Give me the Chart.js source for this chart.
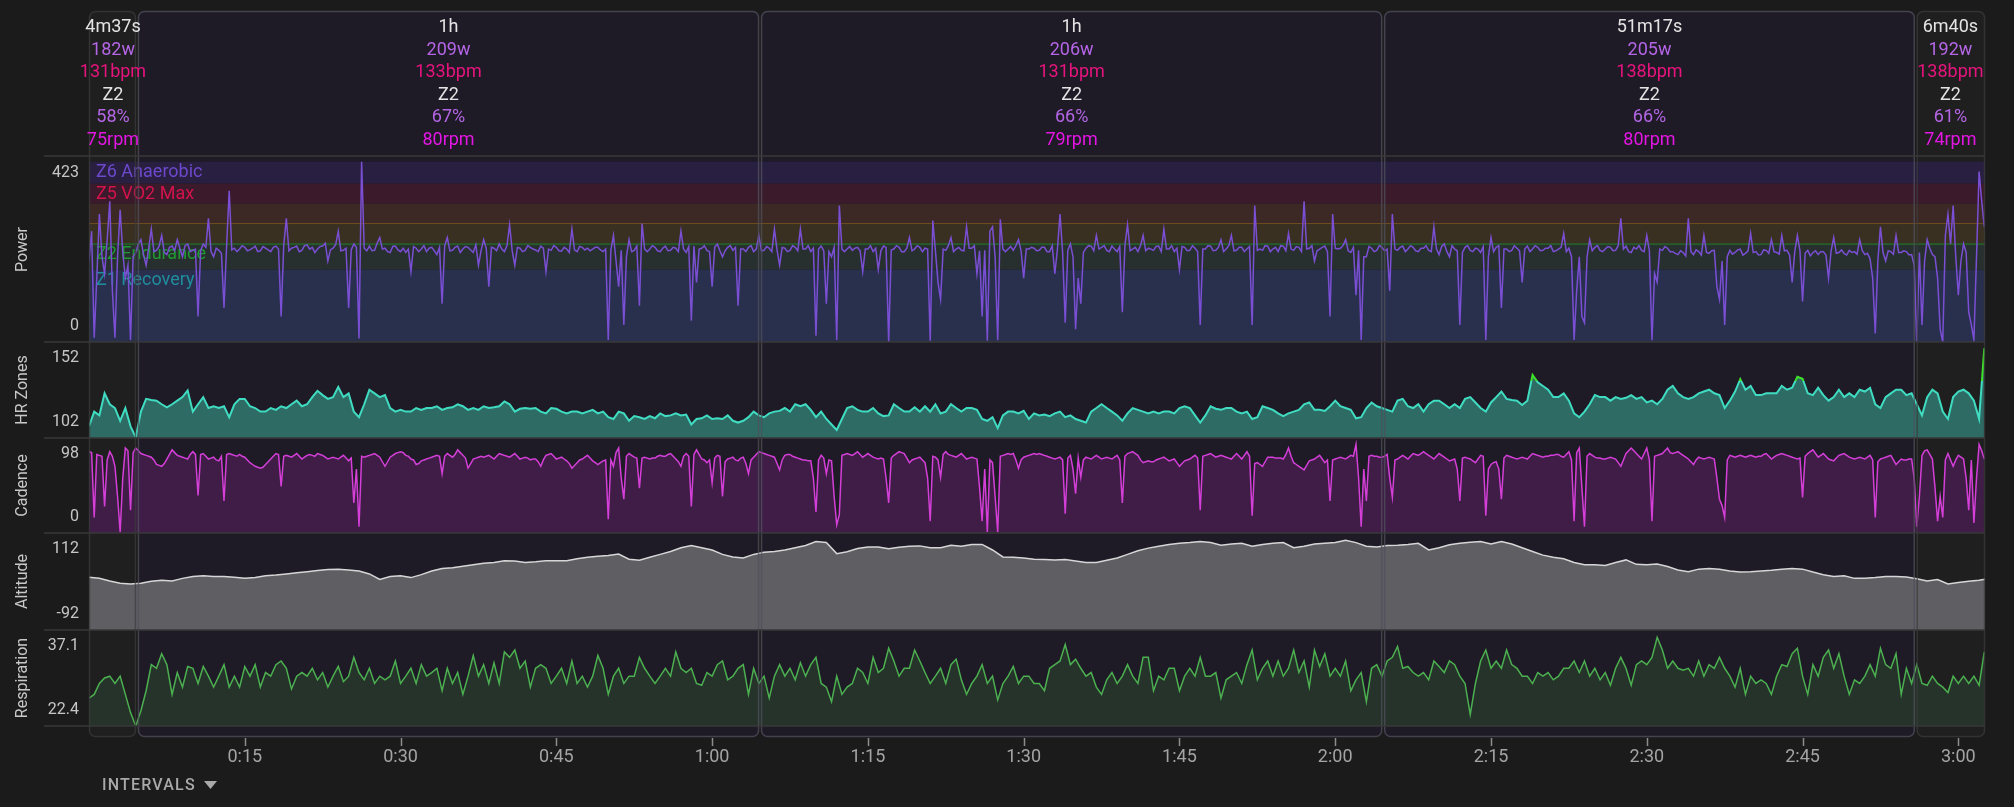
<!DOCTYPE html>
<html>
<head>
<meta charset="utf-8">
<script src="https://cdn.jsdelivr.net/npm/chart.js@4.4.1/dist/chart.umd.min.js"></script>
<style>
  html, body { margin: 0; padding: 0; background: #1b1b1b; }
  #wrap { position: relative; width: 2014px; height: 807px; }
  canvas { display: block; }
</style>
</head>
<body>
<div id="wrap"><canvas id="activity" width="2014" height="807"></canvas></div>
<script>
// sample spacing in minutes
var FINE_STEP = 0.25;   // power, cadence
var STEP = 0.5;         // heart rate, respiration
var ALT_STEP = 1;       // altitude
var END_MIN = 182.567;  // 3:02:34

var tickMinutes = [15, 30, 45, 60, 75, 90, 105, 120, 135, 150, 165, 180];
var tickLabels = ['0:15', '0:30', '0:45', '1:00', '1:15', '1:30', '1:45', '2:00', '2:15', '2:30', '2:45', '3:00'];

// intervals
var intStart = [0, 4.617, 64.617, 124.617, 175.9];
var intEnd = [4.617, 64.617, 124.617, 175.9, 182.567];
var intSelected = [false, true, true, true, false];
var intDuration = ['4m37s', '1h', '1h', '51m17s', '6m40s'];
var intWatts = ['182w', '209w', '206w', '205w', '192w'];
var intBpm = ['131bpm', '133bpm', '131bpm', '138bpm', '138bpm'];
var intZone = ['Z2', 'Z2', 'Z2', 'Z2', 'Z2'];
var intPct = ['58%', '67%', '66%', '66%', '61%'];
var intRpm = ['75rpm', '80rpm', '79rpm', '80rpm', '74rpm'];

// power zones (upper bound in watts)
var zoneNames = ['Z1 Recovery', 'Z2 Endurance', 'Z3 Tempo', 'Z4 Threshold', 'Z5 VO2 Max', 'Z6 Anaerobic'];
var zoneTops = [170, 232, 279, 325, 372, 423];
var zoneShowName = [true, true, false, false, true, true];

// panel labels
var panelTitles = ['Power', 'HR Zones', 'Cadence', 'Altitude', 'Respiration'];
var panelTopLabel = ['423', '152', '98', '112', '37.1'];
var panelBottomLabel = ['0', '102', '0', '-92', '22.4'];
var hrAlertBpm = 134;

var powerW = [
  190,260,10,150, 300,200,160,240, 330,120,10,200, 310,210,150,180, 5,200,210,230, 240,205,180,220, 265,212,215,225, 250,210,205,222,
  225,214,240,220, 200,226,230,212, 215,218,60,215, 230,222,290,212, 200,220,215,208, 80,224,355,216, 220,212,218,226, 222,214,216,220,
  225,212,214,224, 220,216,212,222, 225,218,60,226, 290,214,220,222, 225,212,215,226, 228,218,222,210, 218,224,225,232, 190,216,220,228,
  260,214,215,220, 80,216,230,222, 8,423,220,214, 225,214,215,232, 245,218,220,212, 210,224,225,216, 212,220,
  210,218,165,224, 220,212,218,226, 212,220,222,214, 205,222,90,226, 245,214,215,222, 225,210,218,224, 222,216,210,228, 180,214,240,220,
  130,222,220,214, 230,218,212,226, 275,214,180,222, 220,212,215,226, 222,218,216,212, 225,220,165,218, 215,226,222,214, 213,222,218,210,
  265,216,212,224, 222,216,220,214, 218,222,222,216, 212,218,5,215, 250,190,130,215, 40,200,240,212, 215,225,85,278, 218,212,218,226,
  222,214,212,220, 225,214,215,222, 220,212,260,218, 210,224,50,225, 140,218,220,226, 215,212,130,222, 230,214,
  200,214,222,226, 215,222,85,218, 218,212,222,226, 212,218,250,214, 215,224,220,212, 265,216,180,222, 220,212,215,226, 222,214,265,218,
  218,226,212,220, 15,218,225,214, 90,212,200,222, 5,320,218,212, 218,224,215,220, 222,214,165,218, 218,226,212,220, 170,214,225,222,
  0,216,218,226, 222,212,212,220, 245,214,218,226, 222,212,220,218, 3,285,215,140, 100,218,215,226, 245,212,218,222, 215,214,270,220,
  220,226,160,214, 60,215,3,260, 270,200,4,288, 218,212,218,224, 215,226,240,214, 150,218,218,222, 220,214,
  215,222,222,212, 212,226,160,218, 300,210,45,215, 230,200,30,150, 90,210,220,226, 225,214,250,218, 222,226,215,212, 225,218,212,224,
  70,226,275,214, 218,222,212,226, 250,214,220,218, 215,224,225,212, 265,218,218,226, 212,220,170,224, 222,214,215,226, 220,212,40,218,
  218,226,225,214, 215,222,240,212, 218,226,250,214, 215,222,222,212, 218,224,40,320, 215,218,215,226, 225,212,218,222, 212,226,225,214,
  255,218,215,224, 222,212,330,218, 220,226,190,214, 218,222,225,212, 60,300,220,218, 220,226,240,214, 210,222,
  110,215,5,200, 200,224,220,212, 215,226,222,214, 218,120,300,218, 215,222,225,212, 218,226,222,214, 212,220,220,226, 215,212,270,218,
  205,224,230,212, 200,226,218,214, 40,210,222,226, 215,212,220,218, 210,224,5,200, 245,212,222,226, 80,218,218,212, 215,226,220,214,
  140,218,225,212, 218,226,222,214, 215,220,220,226, 212,214,218,222, 255,212,220,200, 5,120,200,60, 45,200,240,214, 222,226,215,212,
  218,224,222,214, 215,226,290,218, 225,212,210,222, 218,226,215,212, 250,214,4,160, 140,218,215,224, 220,212,
  212,208,205,214, 210,202,290,212, 205,216,212,204, 250,210,208,214, 215,130,100,190, 40,200,215,206, 210,216,218,204, 208,214,255,210,
  212,204,205,216, 215,208,240,212, 210,206,250,214, 215,204,140,212, 250,214,95,208, 215,202,210,214, 205,212,212,204, 150,214,245,208,
  210,216,208,204, 215,210,212,206, 240,214,205,208, 195,150,20,190, 270,210,190,214, 212,206,250,210, 210,214,212,204, 205,180,0,210,
  40,190,240,220, 205,200,150,30, 0,250,300,230, 320,200,110,190, 230,210,70,40, 5,200,400,330, 270
];

var cadenceRpm = [
  89,88,17,86, 85,84,29,80, 89,84,73,40, 1,60,93,90, 25,88,93,90, 87,86,85,84, 83,80,75,74, 73,76,81,86, 91,88,85,84, 83,82,81,86,
  89,86,41,86, 87,84,81,82, 83,80,79,84, 35,86,87,86, 85,84,86,84, 83,80,77,75, 73,72,71,72, 75,78,81,84, 87,86,51,84, 85,84,83,85,
  87,84,81,83, 85,86,85,84, 87,86,85,83, 81,82,83,82, 81,83,85,82, 79,82,33,70, 7,84,83,84, 85,86,87,85, 83,78,73,78, 83,85,87,88, 89,88,
  85,84,81,80, 75,76,79,80, 81,82,83,84, 85,84,65,84, 87,85,83,86, 91,88,85,82, 71,76,81,82, 83,84,83,84, 85,83,81,84, 87,86,85,84,
  83,85,87,84, 81,82,83,82, 80,81,81,78, 73,80,85,86, 87,84,81,82, 83,81,79,76, 71,74,77,80, 81,83,85,82, 79,77,75,77, 79,80,15,80,
  73,88,93,60, 37,84,87,85, 83,82,49,82, 83,82,81,82, 82,84,85,84, 84,86,87,84, 81,78,73,84, 87,84,29,86, 91,86,81,80, 77,80,55,82, 85,84,
  40,78,81,82, 83,80,79,82, 83,76,65,80, 83,86,89,88, 87,86,85,84, 83,76,69,80, 85,86,86,84, 83,82,81,80, 80,79,79,60, 23,80,85,82,
  65,80,79,40, 9,20,85,86, 87,86,85,87, 89,86,83,85, 87,85,83,82, 81,82,81,60, 33,82,85,87, 89,88,87,82, 77,80,81,82, 83,80,77,60,
  13,84,83,80, 61,86,89,86, 85,84,83,85, 87,84,81,82, 83,82,81,50, 13,70,1,80, 77,40,1,84, 85,86,87,86, 87,80,71,80, 83,84,85,86, 87,86,
  87,86,85,84, 83,82,81,82, 83,80,21,82, 85,70,43,82, 61,80,83,82, 81,83,85,83, 81,82,83,82, 81,83,85,80, 33,84,87,88, 89,87,85,80,
  77,78,79,78, 78,80,81,82, 83,81,79,80, 81,77,73,76, 79,80,81,83, 85,82,25,84, 85,86,87,85, 83,84,85,84, 83,82,81,84, 87,84,81,85,
  89,84,19,76, 77,75,73,78, 83,83,83,82, 82,82,81,86, 93,84,77,75, 73,71,69,74, 79,80,81,83, 85,81,77,80, 35,80,81,82, 83,82,81,83, 85,84,
  97,60,7,70, 35,84,85,84, 84,83,83,84, 86,60,39,80, 81,83,85,83, 81,84,87,86, 85,87,89,87, 85,83,81,84, 87,85,83,81, 79,80,81,70,
  35,82,83,82, 81,79,77,81, 85,84,19,70, 75,77,78,70, 37,82,85,84, 83,82,81,82, 83,82,81,84, 87,86,85,84, 83,84,84,85, 85,86,86,84,
  83,86,89,80, 13,88,93,50, 7,84,87,85, 83,82,82,81, 81,82,83,82, 81,77,73,80, 87,90,93,90, 87,84,81,87, 93,80,13,84, 85,86,87,90, 93,88,
  87,88,89,87, 85,83,81,78, 75,80,83,82, 81,82,83,82, 81,60,37,30, 17,80,85,84, 83,84,85,84, 83,84,85,84, 83,84,84,86, 87,84,81,83,
  85,86,87,86, 85,84,83,82, 81,82,39,84, 87,89,91,87, 83,85,87,84, 81,80,79,82, 85,86,87,85, 83,82,81,82, 83,82,81,83, 85,80,17,78,
  81,82,83,84, 85,80,75,78, 81,80,80,81, 81,60,7,40, 85,90,91,86, 81,50,13,40, 17,80,87,80, 73,80,85,83, 81,60,25,80, 11,60,97,90, 81
];

var heartBpm = [
  108.5,116.7,114.6,126.9,120.8,118.7,111.6,118.7,108.5,102.4,116.7,123.8,123.2,122.8,120.8,119.1,120.8,122.8,124.8,128.5,116.7,120.8,124.8,118.7,119.7,118.7,119.7,113.6,120.8,123.8,123.8,119.7,118.7,116.7,116.7,118.7,117.7,119.7,118.7,120.8,122.8,119.7,120.8,124.8,128.3,125.9,123.8,124.8,130.4,124.8,126.9,116.7,113.6,120.8,128.9,126.9,124.8,125.9,118.7,116.7,117.7,
  116.7,116.7,118.7,117.7,118.7,118.7,119.7,117.7,118.7,119.1,120.8,119.7,117.7,118.7,117.7,119.7,118.7,119.1,119.7,122.4,120.8,116.7,118.3,118.7,118.3,118.7,116.7,115.7,118.7,118.3,116.7,115.7,116.7,116.7,115.7,116.7,117.7,115.7,116.7,113.6,112.6,116.7,115.7,111.6,114.2,113.6,112.6,114.2,113,115.7,114.2,114.6,115.7,114.6,115.1,109.5,112.6,113,114.6,112.6,113,
  112.6,114.6,111.6,110.6,111.6,113.6,116.7,114.6,113.6,115.7,116.7,117.1,118.7,116.7,120.8,119.7,120.8,117.7,113.6,116.7,112.6,109.5,106.5,112.6,118.7,119.7,117.7,116.7,116.7,118.7,115.7,114.2,114.6,120.8,118.7,116.7,116.7,119.1,116.7,119.7,116.7,120.8,115.7,116.7,120.8,118.7,116.7,118.7,118.7,117.7,112.6,111.6,113.6,107.5,114.6,116.7,116.7,115.7,117.1,112.6,115.7,
  114.6,115.1,114.2,115.7,116.7,113.6,114.6,112.6,111.6,110.6,116.7,118.7,120.8,118.7,116.7,114.6,111.6,115.7,118.7,117.7,116.7,115.7,116.7,115.7,116.7,116.7,115.7,118.7,119.7,118.7,114.6,110.6,114.6,119.7,118.3,117.7,118.7,118.7,116.7,115.7,116.7,112.6,113.6,119.7,118.7,117.7,115.7,114.2,115.7,116.7,117.7,120.8,121.8,117.7,117.7,117.1,119.7,122.8,119.7,118.7,117.7,
  113,113.6,118.7,121.8,119.7,118.7,117.7,116.7,122.8,123.8,119.7,118.7,120.8,116.7,120.8,122.8,122.8,120.8,118.7,120.8,118.7,123.8,124.8,121.8,118.7,116.7,121.8,124.8,127.9,123.8,123.2,122.8,120.4,122.8,137.1,133,131,128.9,124.8,124.8,126.9,122.8,115.7,113.6,116.7,120.8,125.9,124.8,124.8,122.8,124.8,123.8,124.4,125.9,123.8,124.8,121.8,122.8,120.8,123.8,128.9,
  131,126.9,124.8,123.8,124.8,126.9,127.9,128.9,126.9,125.9,118.7,122.8,127.9,134.8,128.9,131,125.9,125.9,126.9,126.9,126.9,131,128.9,130,136.1,135,126.9,125.9,130,125.9,122.8,124.8,128.9,124.8,126.9,124.8,128.9,127.9,130,120.8,118.7,124.8,126.9,128.9,128.9,125.9,126.9,120.8,114.6,124.8,128.9,126.9,116.7,112.6,124.8,127.9,128.9,126.9,122.8,112.6,152
];

var altitudeM = [
  18.9,16.6,11.2,6.5,5,6.5,10.4,12.7,11.2,16.6,20.5,22,20.5,20.5,18.9,16.6,18.2,22,23.6,25.9,28.2,30.6,32.9,35.2,36,34.4,32.1,25.9,14.3,20.5,22,
  18.2,24.4,32.1,37.5,39.1,42.2,45.3,48.4,50,53.8,53,50,51.5,53.8,53.8,53.8,57.7,60.8,63.1,64.7,67.8,56.9,54.6,60.8,67,73.2,81,85.6,81,76.3,
  67,61.6,59.3,67,71.7,73.2,76.3,81,85.6,94,92,68.6,72.5,79.4,82.5,82.5,78.7,81.8,84.1,84.9,81,81,86.4,84.1,88,88,76.3,61.6,60.8,59.3,56.9,
  56.2,55.4,56.2,53.1,50,50,54.6,59.3,67,74.8,80.2,84.1,88,90.3,91.8,94.2,91.8,86.4,88.7,90.3,84.1,88,90.3,91.8,81,84.1,88.7,90.3,91.8,96.5,
  91.8,84.1,82.5,85.6,86.4,88,90.3,76.3,81,87.2,90.3,92.6,94.2,88.7,94.2,88.7,81,73.2,65.5,60.8,57.7,50,45.3,45.3,43.7,50,55.4,46.1,45.3,46.9,41.4,
  34.4,30.6,36,37.5,36,32.1,29.8,30.6,32.1,33.7,36,37.5,36,29.8,24.4,20.5,22,16.6,16.6,18.2,20.5,20.5,19.7,15.8,11.2,14.3,5,8.1,10.4,12.7,16.6
];

var respirationBrpm = [
  27.0,27.6,29.4,30.3,30.6,29.4,30.6,27.6,24.6,22.4,24.9,28.2,32.5,31.9,34.3,32.5,27.6,31.2,28.8,32.2,31.9,29.4,32.2,30.6,28.8,30.6,32.5,28.8,30.6,28.8,32.2,30.6,32.5,28.8,31.2,30.6,32.5,33.1,31.9,28.5,30.6,31.2,30.6,31.9,30.0,31.2,28.8,30.6,32.2,29.7,30.6,33.7,31.2,30.0,31.9,29.4,30.6,30.0,30.6,33.1,29.4,
  30.6,31.9,29.4,32.5,30.6,31.2,31.9,28.2,31.9,29.4,31.2,27.6,30.6,34.0,30.6,32.5,29.4,32.8,29.4,34.6,33.7,34.9,31.9,33.1,28.8,31.9,32.5,31.9,29.4,30.6,31.9,29.4,33.1,29.4,30.6,28.8,30.6,34.0,31.9,27.6,30.6,31.9,29.4,30.6,30.6,33.7,31.9,30.6,29.4,30.6,31.9,30.6,34.6,31.9,31.2,31.9,29.4,29.1,31.2,30.6,32.5,
  33.1,30.0,30.6,31.9,32.5,27.6,31.9,29.4,30.6,27.0,30.6,32.5,30.6,31.9,30.0,32.8,30.6,32.5,33.7,29.4,28.8,26.4,30.6,27.6,28.8,29.4,31.9,31.2,29.4,33.7,31.2,31.9,35.2,33.1,30.6,31.9,31.9,34.9,33.1,31.2,29.4,30.6,31.9,29.4,32.5,33.4,30.0,27.6,29.4,30.6,32.5,29.4,30.6,26.7,29.4,30.6,32.2,29.4,30.6,30.6,29.4,
  29.4,28.2,31.9,32.5,33.1,35.8,32.5,33.4,31.9,30.6,31.2,28.8,27.6,30.0,31.2,29.4,30.6,32.5,30.6,29.4,33.7,33.7,28.2,30.6,30.0,31.9,31.9,28.2,30.6,31.9,30.6,33.7,30.6,30.6,31.2,27.0,30.0,30.6,31.2,29.4,32.5,34.9,30.0,31.9,33.1,30.6,33.1,30.6,31.9,34.9,31.2,33.1,28.8,34.9,32.2,34.3,30.6,31.9,30.6,33.1,28.2,
  30.0,31.2,26.4,31.9,32.5,30.6,33.1,33.7,35.5,31.9,32.2,31.2,30.6,31.2,30.0,33.1,32.2,31.2,33.1,32.5,30.6,29.4,24.3,29.4,33.1,34.9,31.9,33.1,31.9,34.9,32.5,31.9,30.6,30.6,29.4,31.2,30.6,31.2,30.0,30.6,31.9,31.9,33.1,31.2,33.1,30.6,31.9,30.0,31.2,29.1,31.9,33.7,31.9,29.1,32.5,33.1,32.5,33.7,37.0,34.9,31.9,
  33.1,31.9,31.6,31.9,30.6,33.1,30.6,32.5,31.9,33.7,31.9,30.6,28.8,31.9,27.6,30.6,29.4,30.0,29.4,27.6,30.6,32.5,32.2,34.3,35.2,30.6,27.6,32.5,30.6,33.7,34.9,31.9,34.3,30.6,27.6,30.0,29.4,30.6,32.5,30.6,35.2,32.5,31.9,34.3,27.6,31.9,29.4,32.5,29.4,29.1,30.6,29.4,28.8,27.9,30.6,29.4,30.6,29.4,30.6,29.1,34.6
];

var FONT = 'Roboto, "Noto Sans", sans-serif';
var zoneFills = ['#29304d', '#27302f', '#393022', '#3c2925', '#3b1a2b', '#291f40'];
var zoneTextColors = ['#1f8e9c', '#1f9a30', '#9a8a30', '#b06030', '#d3134c', '#6c49cc'];
var headerColors = ['#e4e4e4', '#b466e6', '#e8147e', '#e4e4e4', '#b466e6', '#e416e4'];
var headerRows = [27, 50, 72, 95, 117, 140];

function toPoints(vals, step) {
  return vals.map(function(v, i) { return { x: i * step, y: v }; });
}

function panelScale(weight, stackWeight, min, max) {
  return {
    type: 'linear', position: 'left', stack: 'panels', stackWeight: stackWeight, weight: weight,
    min: min, max: max,
    ticks: { display: false },
    grid: { display: false, drawTicks: false },
    border: { display: false },
    afterFit: function(s) { s.width = 0; }
  };
}

var panelIds = ['yPow', 'yHr', 'yCad', 'yAlt', 'yResp'];

function boxEdges(x, i) {
  var l = x.getPixelForValue(intStart[i]) + (i > 0 ? 1 : 0);
  var r = x.getPixelForValue(intEnd[i]) - (i < intStart.length - 1 ? 1 : 0);
  return [l, r];
}

var backdrop = {
  id: 'backdrop',
  beforeDraw: function(chart) {
    var c = chart.ctx, x = chart.scales.x;
    c.save();
    c.fillStyle = '#1b1b1b';
    c.fillRect(0, 0, chart.width, chart.height);
    for (var i = 0; i < intStart.length; i++) {
      var e = boxEdges(x, i);
      c.beginPath();
      c.roundRect(e[0], 11, e[1] - e[0], 726, 6);
      c.fillStyle = intSelected[i] ? '#1e1a26' : '#1f1f1f';
      c.fill();
    }
    c.restore();
  },
  beforeDatasetsDraw: function(chart) {
    var c = chart.ctx, y = chart.scales.yPow, area = chart.chartArea;
    c.save();
    for (var z = 0; z < zoneTops.length; z++) {
      var yt = y.getPixelForValue(zoneTops[z]);
      var yb = y.getPixelForValue(z === 0 ? 0 : zoneTops[z - 1]);
      c.fillStyle = zoneFills[z];
      c.fillRect(area.left, yt, area.width, yb - yt);
    }
    // band edges
    c.fillStyle = 'rgba(150,100,30,0.6)';
    c.fillRect(area.left, y.getPixelForValue(zoneTops[2]), area.width, 1);
    c.fillStyle = 'rgba(40,110,40,0.7)';
    c.fillRect(area.left, y.getPixelForValue(zoneTops[1]), area.width, 2);
    c.font = '18px ' + FONT;
    c.textAlign = 'left';
    c.textBaseline = 'middle';
    for (z = 0; z < zoneTops.length; z++) {
      if (!zoneShowName[z]) continue;
      c.fillStyle = zoneTextColors[z];
      c.fillText(zoneNames[z], area.left + 7, y.getPixelForValue(zoneTops[z]) + 11);
    }
    c.restore();
  },
  afterDatasetsDraw: function(chart) {
    var c = chart.ctx, x = chart.scales.x, area = chart.chartArea;
    c.save();
    for (var i = 0; i < intStart.length; i++) {
      var e = boxEdges(x, i);
      c.beginPath();
      c.roundRect(e[0] + 0.5, 11.5, e[1] - e[0] - 1, 725, 6);
      c.lineWidth = 1.5;
      c.strokeStyle = intSelected[i] ? 'rgba(80,80,92,0.75)' : 'rgba(60,60,60,0.7)';
      c.stroke();
    }
    c.strokeStyle = '#383838';
    c.lineWidth = 1.5;
    var lines = [chart.scales.yPow.top - 1];
    panelIds.forEach(function(id) { lines.push(chart.scales[id].bottom); });
    lines.forEach(function(py) {
      c.beginPath();
      c.moveTo(44, py);
      c.lineTo(area.right, py);
      c.stroke();
    });
    c.restore();
  },
  afterDraw: function(chart) {
    var c = chart.ctx, x = chart.scales.x;
    c.save();
    // panel titles and range labels
    panelIds.forEach(function(id, k) {
      var s = chart.scales[id];
      c.font = '16px ' + FONT;
      c.fillStyle = '#c6c6c6';
      c.textAlign = 'right';
      c.textBaseline = 'middle';
      c.fillText(panelTopLabel[k], 79, s.top + 16);
      c.fillText(panelBottomLabel[k], 79, s.bottom - 16);
      c.save();
      c.translate(23, (s.top + s.bottom) / 2);
      c.rotate(-Math.PI / 2);
      c.textAlign = 'center';
      c.fillStyle = '#c8c8c8';
      c.fillText(panelTitles[k], 0, 0);
      c.restore();
    });
    // interval header
    var rows = [intDuration, intWatts, intBpm, intZone, intPct, intRpm];
    c.font = '18px ' + FONT;
    c.textAlign = 'center';
    c.textBaseline = 'middle';
    for (var i = 0; i < intStart.length; i++) {
      var cx = x.getPixelForValue((intStart[i] + intEnd[i]) / 2);
      for (var r = 0; r < rows.length; r++) {
        c.fillStyle = headerColors[r];
        c.fillText(rows[r][i], cx, headerRows[r]);
      }
    }
    // x tick marks
    c.strokeStyle = '#8c8c8c';
    c.lineWidth = 1.5;
    tickMinutes.forEach(function(v) {
      var px = Math.round(x.getPixelForValue(v)) + 0.5;
      c.beginPath();
      c.moveTo(px, 738);
      c.lineTo(px, 746);
      c.stroke();
    });
    // intervals toggle
    c.font = '500 16px ' + FONT;
    c.letterSpacing = '1.2px';
    c.fillStyle = '#a9a9a9';
    c.textAlign = 'left';
    c.fillText('INTERVALS', 102, 786);
    c.letterSpacing = '0px';
    c.beginPath();
    c.moveTo(204, 781);
    c.lineTo(217, 781);
    c.lineTo(210.5, 789);
    c.closePath();
    c.fill();
    c.restore();
  }
};

var hrBorder = function(ctx) {
  var ch = ctx.chart;
  if (!ch.chartArea) return '#3fdcc1';
  var y = ch.scales.yHr.getPixelForValue(hrAlertBpm);
  var g = ch.ctx.createLinearGradient(0, y - 0.5, 0, y + 0.5);
  g.addColorStop(0, '#3ee02a');
  g.addColorStop(0.5, '#3ee02a');
  g.addColorStop(0.5, '#3fdcc1');
  g.addColorStop(1, '#3fdcc1');
  return g;
};

new Chart(document.getElementById('activity'), {
  type: 'line',
  data: {
    datasets: [
      { label: 'Power', yAxisID: 'yPow', data: toPoints(powerW, FINE_STEP), borderColor: '#7a4fd4', borderWidth: 1.5, fill: false },
      { label: 'HR', yAxisID: 'yHr', data: toPoints(heartBpm, STEP), borderColor: hrBorder, borderWidth: 2, fill: 'start', backgroundColor: '#2d6b64' },
      { label: 'Cadence', yAxisID: 'yCad', data: toPoints(cadenceRpm, FINE_STEP), borderColor: '#d43fd8', borderWidth: 1.5, fill: 'start', backgroundColor: '#3f1d46' },
      { label: 'Altitude', yAxisID: 'yAlt', data: toPoints(altitudeM, ALT_STEP), borderColor: '#d6d6d6', borderWidth: 1.5, fill: 'start', backgroundColor: '#5f5e63' },
      { label: 'Respiration', yAxisID: 'yResp', data: toPoints(respirationBrpm, STEP), borderColor: '#4cb050', borderWidth: 1.5, fill: 'start', backgroundColor: '#25332a' }
    ]
  },
  options: {
    responsive: false,
    devicePixelRatio: 1,
    animation: false,
    events: [],
    layout: { padding: { left: 89, right: 29, top: 157, bottom: 0 } },
    elements: { point: { radius: 0 }, line: { tension: 0 } },
    plugins: { legend: { display: false }, tooltip: { enabled: false } },
    scales: {
      x: {
        type: 'linear', position: 'bottom', min: 0, max: END_MIN,
        grid: { display: false, drawTicks: false },
        border: { display: false },
        afterBuildTicks: function(s) { s.ticks = tickMinutes.map(function(v) { return { value: v }; }); },
        afterFit: function(s) { s.height = 81; },
        ticks: {
          autoSkip: false, maxRotation: 0, padding: 21, color: '#a4a4a4',
          font: { family: FONT, size: 18 },
          callback: function(v, i) { return tickLabels[i]; }
        }
      },
      yPow: panelScale(5, 185, 0, 434),
      yHr: panelScale(4, 96, 102, 155.5),
      yCad: panelScale(3, 95, 0, 104),
      yAlt: panelScale(2, 97, -92, 112),
      yResp: panelScale(1, 96, 22.4, 38.2)
    }
  },
  plugins: [backdrop]
});
</script>
</body>
</html>
